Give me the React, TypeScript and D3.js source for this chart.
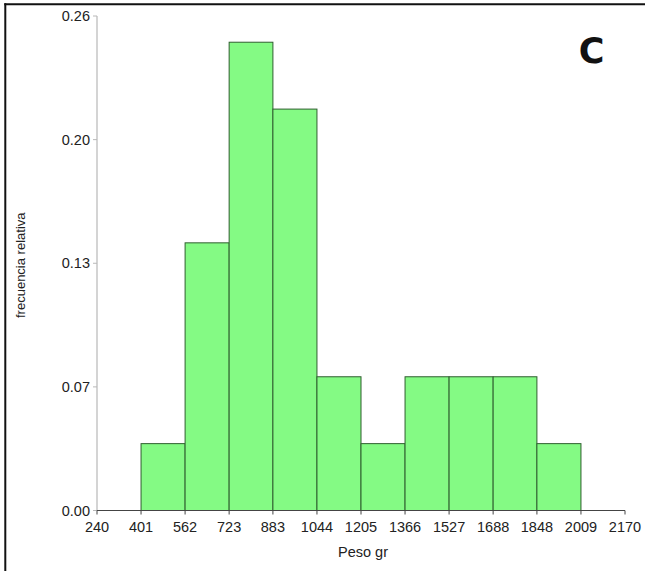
import React from "react";
import * as d3 from "d3";

const binEdges = [240, 401, 562, 723, 883, 1044, 1205, 1366, 1527, 1688, 1848, 2009, 2170];
const binStarts = [401, 562, 723, 883, 1044, 1205, 1366, 1527, 1688, 1848];
const binEnds = [562, 723, 883, 1044, 1205, 1366, 1527, 1688, 1848, 2009];
const relFreq = [0.0357, 0.1429, 0.25, 0.2143, 0.0714, 0.0357, 0.0714, 0.0714, 0.0714, 0.0357];
const yTickValues = [0, 0.066, 0.132, 0.198, 0.264];
const yTickLabels = ["0.00", "0.07", "0.13", "0.20", "0.26"];
const xLabel = "Peso gr";
const yLabel = "frecuencia relativa";
const panelLetter = "C";

const W = 645;
const H = 571;
const left = 97;
const right = 625;
const top = 16;
const bottom = 510.5;

export default function App() {
  const x = d3.scaleLinear().domain([240, 2170]).range([left, right]);
  const y = d3.scaleLinear().domain([0, 0.264]).range([bottom, top]);
  const font = "'Liberation Sans', Arial, sans-serif";
  return (
    <svg
      width={W}
      height={H}
      style={{ position: "absolute", left: 0, top: 0, background: "#fff" }}
    >
      <rect x={0} y={0} width={W} height={H} fill="#fff" />
      {/* frame */}
      <line x1={5.3} y1={3.3} x2={5.3} y2={H} stroke="#111" strokeWidth={2} />
      <line x1={4.3} y1={4.3} x2={W} y2={4.3} stroke="#111" strokeWidth={2} />

      {/* bars */}
      {relFreq.map((v, i) => (
        <rect
          key={i}
          x={x(binStarts[i])}
          y={y(v)}
          width={x(binEnds[i]) - x(binStarts[i])}
          height={y(0) - y(v)}
          fill="#84fa84"
          stroke="#2f5f2f"
          strokeWidth={1}
        />
      ))}

      {/* y axis */}
      <line x1={left} y1={top} x2={left} y2={bottom} stroke="#b8b8b8" strokeWidth={1.2} />
      {yTickValues.map((v, i) => (
        <g key={i}>
          <line x1={left - 4} x2={left} y1={y(v)} y2={y(v)} stroke="#b8b8b8" strokeWidth={1} />
          <text
            x={left - 7}
            y={y(v)}
            dy="0.35em"
            textAnchor="end"
            fontFamily={font}
            fontSize={14.5}
            fill="#222"
          >
            {yTickLabels[i]}
          </text>
        </g>
      ))}

      {/* x axis */}
      <line x1={left} y1={bottom} x2={right} y2={bottom} stroke="#444" strokeWidth={1.2} />
      {binEdges.map((v, i) => (
        <g key={i}>
          <line x1={x(v)} x2={x(v)} y1={bottom} y2={bottom + 4} stroke="#444" strokeWidth={1} />
          <text
            x={x(v)}
            y={532}
            textAnchor="middle"
            fontFamily={font}
            fontSize={14.5}
            fill="#222"
          >
            {v}
          </text>
        </g>
      ))}

      <text
        x={(left + right) / 2 + 2}
        y={557}
        textAnchor="middle"
        fontFamily={font}
        fontSize={14.5}
        fill="#222"
      >
        {xLabel}
      </text>
      <text
        transform={`translate(24.5, ${(top + bottom) / 2 + 2}) rotate(-90)`}
        textAnchor="middle"
        fontFamily={font}
        fontSize={13}
        fill="#222"
      >
        {yLabel}
      </text>

      <text
        x={591.5}
        y={62.5}
        textAnchor="middle"
        fontFamily="'DejaVu Sans', sans-serif"
        fontWeight={700}
        fontSize={35}
        fill="#111"
      >
        {panelLetter}
      </text>
    </svg>
  );
}
